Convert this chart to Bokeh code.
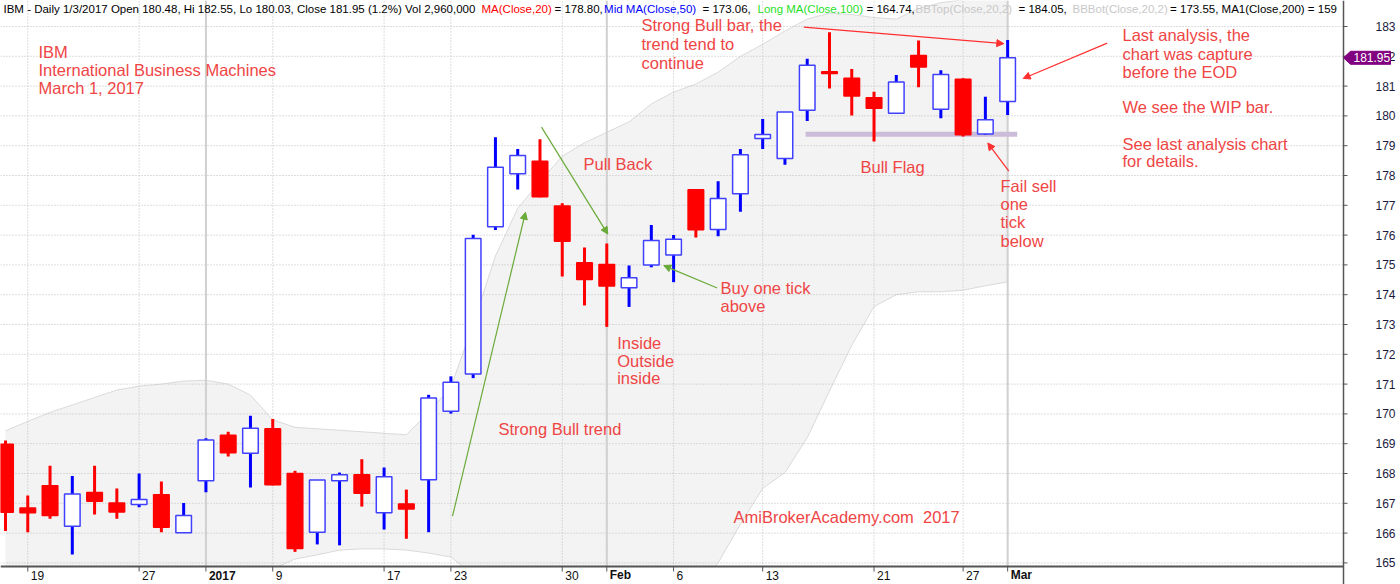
from bokeh.plotting import figure
from bokeh.models import Range1d, Arrow, NormalHead, ColumnDataSource
from bokeh.core.properties import value
from bokeh.embed import file_html
from bokeh.resources import INLINE

# ---------------- data ----------------
bar_index = list(range(46))
opens = [168.98, 166.84, 167.59, 166.23, 167.36, 167.01, 166.96, 167.29, 166.01, 167.76,
         169.28, 168.68, 169.50, 168.00, 166.03, 167.76, 167.96, 166.68, 166.98, 167.79,
         170.09, 171.34, 176.28, 178.06, 178.48, 176.98, 175.07, 175.01, 174.23, 175.00,
         175.33, 177.52, 176.19, 177.39, 179.24, 178.57, 180.19, 181.48, 181.26, 180.61,
         180.09, 182.03, 180.22, 181.23, 179.39, 180.48]
highs = [169.11, 167.26, 168.26, 167.92, 168.26, 167.50, 168.00, 167.73, 167.01, 169.18,
         169.40, 169.94, 169.83, 168.09, 167.78, 168.03, 168.48, 168.20, 167.46, 170.64,
         171.26, 176.01, 179.28, 178.89, 179.22, 177.07, 175.58, 175.72, 174.98, 176.34,
         176.00, 177.52, 177.81, 178.89, 179.90, 180.13, 181.92, 182.81, 181.57, 180.81,
         181.37, 182.53, 181.53, 181.26, 180.64, 182.55]
lows = [166.07, 166.03, 166.48, 165.28, 166.62, 166.48, 166.87, 166.03, 166.01, 167.37,
        168.57, 167.53, 167.60, 165.37, 165.62, 165.59, 166.89, 166.12, 165.81, 166.03,
        170.01, 171.20, 176.17, 177.53, 177.27, 174.61, 173.64, 172.92, 173.59, 174.92,
        174.42, 175.92, 175.96, 176.78, 178.89, 178.36, 179.83, 180.92, 180.01, 179.14,
        180.07, 180.96, 179.92, 179.31, 179.37, 180.03]
closes = [166.70, 166.68, 166.59, 167.31, 167.07, 166.71, 167.13, 166.20, 166.59, 169.12,
          168.70, 169.52, 167.62, 165.48, 167.78, 167.96, 167.34, 167.89, 166.81, 170.53,
          171.06, 175.89, 178.28, 178.67, 177.29, 175.79, 174.51, 174.29, 174.57, 175.82,
          175.86, 176.18, 177.23, 178.70, 179.38, 180.13, 181.70, 181.42, 180.67, 180.26,
          181.14, 181.64, 181.39, 179.37, 179.87, 181.95]
bb_upper = [169.43, 169.75, 170.05, 170.30, 170.55, 170.80, 170.93, 171.00, 171.10, 171.13,
            171.00, 170.63, 169.80, 169.55, 169.50, 169.45, 169.40, 169.35, 169.30, 170.05,
            170.90, 173.00, 175.30, 176.90, 177.80, 178.65, 179.10, 179.45, 179.80, 180.40,
            180.80, 181.07, 181.47, 182.00, 182.40, 182.85, 183.25, 183.45, 183.40, 183.30,
            183.25, 183.60, 183.80, 183.90, 184.00, 184.05]
bb_lower = [164.30, 164.40, 164.40, 164.50, 164.50, 164.50, 164.50, 164.60, 164.60, 164.50,
            164.50, 164.60, 164.80, 165.13, 165.27, 165.43, 165.47, 165.47, 165.43, 165.33,
            165.20, 164.60, 164.00, 163.50, 163.20, 163.00, 162.90, 162.90, 163.00, 163.20,
            163.60, 164.20, 165.00, 166.30, 167.50, 168.03, 169.20, 170.77, 172.30, 173.60,
            174.00, 174.10, 174.10, 174.15, 174.30, 174.43]
tick_pos = [1, 6, 9, 12, 17, 20, 25, 27, 30, 34, 39, 43, 45]
tick_labels = ["19", "27", "2017", "9", "17", "23", "30", "Feb", "6", "13", "21", "27", "Mar"]
bold_labels = ["2017", "Feb", "Mar"]
month_starts = [9, 27, 45]
y_ticks = list(range(165, 184))

header_parts = [
    (3, "IBM - Daily 1/3/2017 Open 180.48, Hi 182.55, Lo 180.03, Close 181.95 (1.2%) Vol 2,960,000", "#000000"),
    (481, "MA(Close,20)", "#ff0000"),
    (554, "= 178.80,", "#000000"),
    (603.6, "Mid MA(Close,50)", "#0000ff"),
    (702, "= 173.06,", "#000000"),
    (757, "Long MA(Close,100)", "#1fe01f"),
    (866, "= 164.74,", "#000000"),
    (915, "BBTop(Close,20,2)", "#c8c8c8"),
    (1018, "= 184.05,", "#000000"),
    (1072, "BBBot(Close,20,2)", "#c8c8c8"),
    (1169.6, "= 173.55, MA1(Close,200) = 159", "#000000"),
]

# annotation texts: (px x, px baseline y, text)
notes = [
    (38, 56.5, "IBM"), (38, 75, "International Business Machines"), (38, 93, "March 1, 2017"),
    (641, 30, "Strong Bull bar, the"), (641, 49, "trend tend to"), (641, 67.5, "continue"),
    (1122, 40, "Last analysis, the"), (1122, 59, "chart was capture"), (1122, 77.5, "before the EOD"),
    (1122, 112.5, "We see the WIP bar."),
    (1122, 149, "See last analysis chart"), (1122, 167, "for details."),
    (583, 169.5, "Pull Back"),
    (720, 294.5, "Buy one tick"), (720, 312.5, "above"),
    (616.7, 349.5, "Inside"), (616.7, 367.5, "Outside"), (616.7, 385.5, "inside"),
    (498, 436.5, "Strong Bull trend"),
    (860, 172.5, "Bull Flag"),
    (1000, 191.5, "Fail sell"), (1000, 210, "one"), (1000, 228.5, "tick"), (1000, 247, "below"),
    (733, 524.5, "AmiBrokerAcademy.com\u00a0 2017"),
]
# arrows: (x0, y0, x1, y1, colour) in px
arrows = [
    (803.3, 26.7, 1003.3, 43.3, "#ff3030"),
    (1106.7, 42.7, 1022.7, 78.3, "#ff3030"),
    (1008.3, 171.7, 987.3, 143.3, "#ff3030"),
    (452, 519, 525, 213, "#6aaa3a"),
    (541, 127.3, 607.3, 235, "#6aaa3a"),
    (716.7, 289.3, 663.3, 266.7, "#6aaa3a"),
]

# ---------------- geometry (pixels -> data) ----------------
W, H = 1400, 584
BAR_PX = 22.27
K = 29.8


def px2x(px):            # pixel x -> bar index
    return (px - 5) / BAR_PX


def py2y(py):            # pixel y -> price
    return 183 - (py - 26) / K


def ny(py):              # reference-pixel y (30 px per point) -> price
    return 183 - (py - 26) / 30.0


x_lo, x_hi = px2x(0), px2x(W)
y_lo, y_hi = py2y(H), py2y(0)
axis_x = px2x(1343)
axis_y = py2y(566)

p = figure(width=W, height=H, x_range=Range1d(x_lo, x_hi), y_range=Range1d(y_lo, y_hi),
           x_axis_location=None, y_axis_location=None, output_backend="svg",
           toolbar_location=None, min_border=0)
p.outline_line_color = None
p.background_fill_color = "white"
p.border_fill_color = "white"
p.grid.visible = False

# Bollinger band
p.varea(x=bar_index, y1=bb_lower, y2=bb_upper, fill_color="#f3f3f3", level="image")
p.line(bar_index, bb_upper, line_color="#dadada", line_width=1, level="image")
p.line(bar_index, bb_lower, line_color="#dadada", line_width=1, level="image")

# grid
p.segment(x0=[x_lo] * len(y_ticks), y0=y_ticks, x1=[axis_x] * len(y_ticks), y1=y_ticks,
          line_color="#bdbdbd", line_dash="1 2", line_width=1, level="underlay")
p.segment(x0=tick_pos, y0=[axis_y] * len(tick_pos), x1=tick_pos, y1=[y_hi] * len(tick_pos),
          line_color="#bdbdbd", line_dash="1 2", line_width=1, level="underlay")
p.segment(x0=month_starts, y0=[axis_y] * 3, x1=month_starts, y1=[y_hi] * 3,
          line_color="#d0d0d0", line_width=2, level="underlay")

# bull flag line
p.segment(x0=[px2x(805)], y0=[ny(134.5)], x1=[px2x(1016.7)], y1=[ny(134.5)],
          line_color="#cbbdd8", line_width=5)

# candles
up = [c >= o for o, c in zip(opens, closes)]
src = ColumnDataSource(dict(
    x=bar_index, o=opens, h=highs, l=lows, c=closes,
    top=[max(o, c) for o, c in zip(opens, closes)],
    bot=[min(o, c) for o, c in zip(opens, closes)],
    wick=["#0000ff" if u else "#ff0000" for u in up],
    fill=["#ffffff" if u else "#ff0000" for u in up],
    edge=["#4040ff" if u else "#ff0000" for u in up],
))
p.segment(x0="x", y0="l", x1="x", y1="h", line_color="wick", line_width=3, source=src)
p.vbar(x="x", width=0.7, top="top", bottom="bot", fill_color="fill",
       line_color="edge", line_width=1.5, source=src)

# header
p.text(x=[px2x(px) for px, _, _ in header_parts],
       y=[py2y(8.5)] * len(header_parts), text=[t for _, t, _ in header_parts],
       text_color=[c for _, _, c in header_parts],
       text_font=value("Liberation Sans"), text_font_size="11.5px",
       text_baseline="middle", text_align="left")

# annotation texts (centred vertically on the reference line)
p.text(x=[px2x(a) for a, _, _ in notes], y=[ny(b - 5.2) for _, b, _ in notes],
       text=[t for _, _, t in notes], text_color="#ef4545",
       text_font=value("Liberation Sans"), text_font_size="16.5px",
       text_baseline="middle", text_align="left")

# masks outside the price pane
p.quad(left=[x_lo], right=[axis_x], bottom=[y_lo], top=[axis_y], fill_color="white", line_color=None)
p.quad(left=[axis_x], right=[x_hi], bottom=[y_lo], top=[y_hi], fill_color="white", line_color=None)

# price axis (right)
p.segment(x0=[axis_x], y0=[y_lo], x1=[axis_x], y1=[y_hi], line_color="#555555", line_width=1.5)
p.segment(x0=[axis_x] * len(y_ticks), y0=y_ticks, x1=[px2x(1347)] * len(y_ticks), y1=y_ticks,
          line_color="#555555", line_width=1)
p.text(x=[px2x(1395)] * len(y_ticks), y=y_ticks, text=[str(t) for t in y_ticks],
       text_color="#1a1a40", text_font=value("Liberation Sans"), text_font_size="12px",
       text_baseline="middle", text_align="right")

# date axis (bottom)
p.segment(x0=[x_lo], y0=[axis_y], x1=[axis_x], y1=[axis_y], line_color="#555555", line_width=2)
p.segment(x0=tick_pos, y0=[axis_y] * len(tick_pos), x1=tick_pos, y1=[py2y(571)] * len(tick_pos),
          line_color="#555555", line_width=1)
norm = [(t, l) for t, l in zip(tick_pos, tick_labels) if l not in bold_labels]
bold = [(t, l) for t, l in zip(tick_pos, tick_labels) if l in bold_labels]
for group, style in ((norm, "normal"), (bold, "bold")):
    p.text(x=[t for t, _ in group], y=[py2y(574.5)] * len(group), text=[l for _, l in group],
           x_offset=3, text_color="#111111", text_font=value("Liberation Sans"),
           text_font_size="12px", text_font_style=style,
           text_baseline="middle", text_align="left")

# last price tag
last = closes[-1]
hh = 6.5 / K
p.patch(x=[px2x(1343), px2x(1350), px2x(1390), px2x(1390), px2x(1350)],
        y=[last, last + hh, last + hh, last - hh, last - hh],
        fill_color="#800080", line_color="#800080")
p.text(x=[px2x(1353)], y=[last], text=[f"{last:.2f}"], text_color="white",
       text_font=value("Liberation Sans"), text_font_size="12px",
       text_baseline="middle", text_align="left")

for (ax0, ay0, ax1, ay1, col) in arrows:
    p.add_layout(Arrow(x_start=px2x(ax0), y_start=ny(ay0), x_end=px2x(ax1), y_end=ny(ay1),
                       line_color=col, line_width=1.2,
                       end=NormalHead(size=7, fill_color=col, line_color=col)))

open("out.html", "w").write(file_html(p, INLINE))
